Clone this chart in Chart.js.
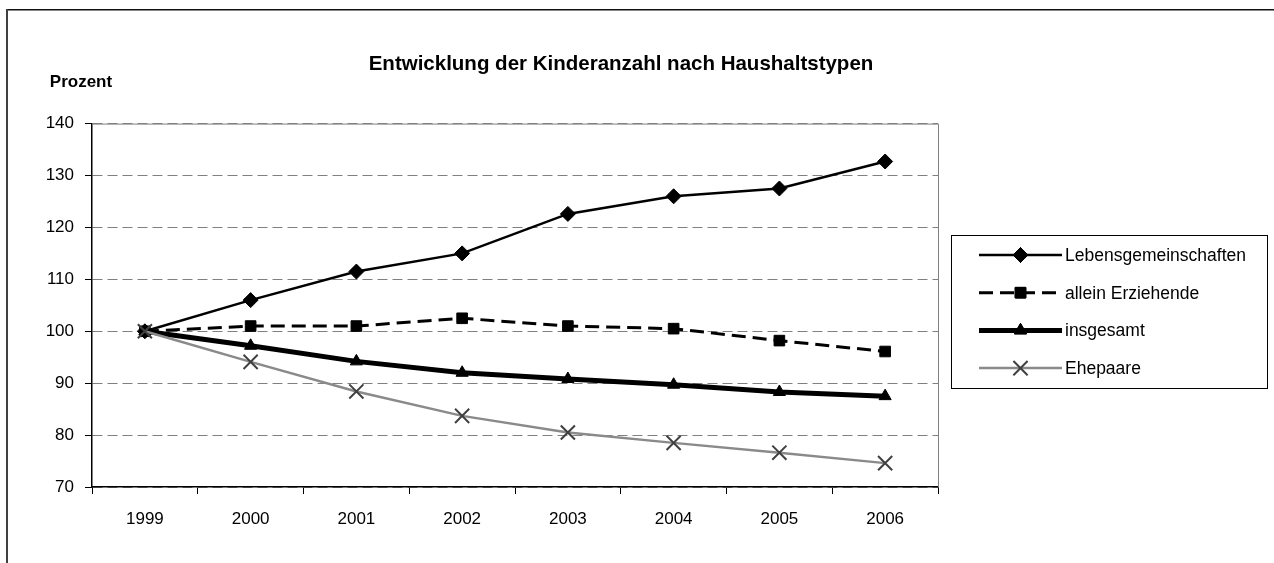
<!DOCTYPE html>
<html>
<head>
<meta charset="utf-8">
<script src="https://cdn.jsdelivr.net/npm/chart.js@4/dist/chart.umd.min.js"></script>
<style>
  html, body { margin: 0; padding: 0; background: #fff; }
  #wrap { position: relative; width: 1274px; height: 563px; }
</style>
</head>
<body>
<div id="wrap"><canvas id="chart"></canvas></div>
<script>
const years = ['1999', '2000', '2001', '2002', '2003', '2004', '2005', '2006'];
const lebensgemeinschaften = [100, 106.0, 111.5, 115.0, 122.6, 126.0, 127.5, 132.7];
const alleinErziehende = [100, 101.0, 101.0, 102.5, 101.0, 100.5, 98.2, 96.1];
const insgesamt = [100, 97.2, 94.2, 92.0, 90.8, 89.7, 88.3, 87.5];
const ehepaare = [100, 94.1, 88.4, 83.7, 80.5, 78.5, 76.6, 74.6];

const font = '"Liberation Sans", Arial, sans-serif';

// frame, "Prozent" and the legend box
const extras = {
  id: 'extras',
  beforeDraw(chart) {
    const ctx = chart.ctx;
    ctx.save();
    ctx.fillStyle = '#fff';
    ctx.fillRect(0, 0, chart.width, chart.height);
    ctx.strokeStyle = '#111';
    ctx.lineWidth = 1.5;
    ctx.beginPath();
    ctx.moveTo(6, 9.75);
    ctx.lineTo(chart.width, 9.75);
    ctx.stroke();
    ctx.strokeStyle = '#404040';
    ctx.lineWidth = 2;
    ctx.beginPath();
    ctx.moveTo(7, 9);
    ctx.lineTo(7, chart.height);
    ctx.stroke();
    ctx.restore();
  },
  beforeDatasetsDraw(chart) {
    const ctx = chart.ctx, a = chart.chartArea;
    ctx.save();
    ctx.strokeStyle = '#808080';
    ctx.lineWidth = 1;
    ctx.beginPath();
    ctx.moveTo(a.left, a.top + 0.5);
    ctx.lineTo(a.right + 0.5, a.top + 0.5);
    ctx.lineTo(a.right + 0.5, a.bottom);
    ctx.stroke();
    ctx.restore();
  },
  afterDraw(chart) {
    const ctx = chart.ctx;
    ctx.save();
    ctx.fillStyle = '#000';
    ctx.font = 'bold 17px ' + font;
    ctx.textAlign = 'center';
    ctx.textBaseline = 'middle';
    ctx.fillText('Prozent', 81, 82);

    // legend
    const box = {x: 951.5, y: 235.5, w: 316, h: 153};
    ctx.strokeStyle = '#000';
    ctx.lineWidth = 1;
    ctx.strokeRect(box.x, box.y, box.w, box.h);
    ctx.font = '17.5px ' + font;
    ctx.textAlign = 'left';
    chart.data.datasets.forEach((ds, i) => {
      const y = 255 + i * 37.7;
      ctx.save();
      ctx.strokeStyle = ds.borderColor;
      ctx.lineWidth = ds.borderWidth;
      ctx.setLineDash(ds.borderDash || []);
      ctx.beginPath();
      ctx.moveTo(979, y);
      ctx.lineTo(1062, y);
      ctx.stroke();
      ctx.restore();
      Chart.helpers.drawPoint(ctx, {
        pointStyle: ds.pointStyle,
        radius: ds.pointRadius,
        borderWidth: ds.pointBorderWidth,
        rotation: 0
      }, 1020.5, y);
      ctx.fillStyle = ds.pointBackgroundColor;
      ctx.strokeStyle = ds.pointBorderColor;
      ctx.lineWidth = ds.pointBorderWidth;
      ctx.fill();
      ctx.stroke();
      ctx.fillStyle = '#000';
      ctx.fillText(ds.label, 1065, y + 1);
    });
    ctx.restore();
  }
};

new Chart(document.getElementById('chart'), {
  type: 'line',
  data: {
    labels: years,
    datasets: [
      {label: 'Lebensgemeinschaften', data: lebensgemeinschaften, borderColor: '#000', borderWidth: 2.5,
       pointStyle: 'rectRot', pointRadius: 7.5, pointBackgroundColor: '#000', pointBorderColor: '#000', pointBorderWidth: 1, order: 3},
      {label: 'allein Erziehende', data: alleinErziehende, borderColor: '#000', borderWidth: 3, borderDash: [14, 7],
       pointStyle: 'rect', pointRadius: 7.5, pointBackgroundColor: '#000', pointBorderColor: '#000', pointBorderWidth: 1, order: 2},
      {label: 'insgesamt', data: insgesamt, borderColor: '#000', borderWidth: 5,
       pointStyle: 'triangle', pointRadius: 7, pointBackgroundColor: '#000', pointBorderColor: '#000', pointBorderWidth: 1, order: 1},
      {label: 'Ehepaare', data: ehepaare, borderColor: '#8a8a8a', borderWidth: 2.5,
       pointStyle: 'crossRot', pointRadius: 10, pointBackgroundColor: '#404040', pointBorderColor: '#404040', pointBorderWidth: 2, order: 0}
    ]
  },
  options: {
    responsive: true,
    maintainAspectRatio: false,
    animation: false,
    devicePixelRatio: 1,
    layout: {padding: {left: 0, right: 32, top: 0, bottom: 0}},
    elements: {line: {tension: 0}},
    plugins: {
      legend: {display: false},
      tooltip: {enabled: false},
      title: {
        display: true,
        text: 'Entwicklung der Kinderanzahl nach Haushaltstypen',
        color: '#000',
        font: {family: font, size: 20.5, weight: 'bold'},
        padding: {top: 52, bottom: 47}
      }
    },
    scales: {
      x: {
        offset: true,
        grid: {offset: true, drawOnChartArea: false, tickLength: 7, color: '#000', tickWidth: 1},
        border: {color: '#000', width: 1.5},
        ticks: {color: '#000', font: {family: font, size: 17}, padding: 15, maxRotation: 0},
        afterFit(scale) { scale.height = 76; }
      },
      y: {
        min: 70,
        max: 140,
        grid: {color: '#808080', lineWidth: 1, tickLength: 7, tickColor: '#000'},
        border: {color: '#000', width: 1.5, dash: [10, 5]},
        ticks: {stepSize: 10, color: '#000', font: {family: font, size: 17}, padding: 11},
        afterFit(scale) { scale.width = 92; }
      },
      // empty space on the right where the legend box sits
      legendSpace: {
        type: 'linear',
        position: 'right',
        grid: {display: false},
        border: {display: false},
        ticks: {display: false},
        afterFit(scale) { scale.width = 1274 - 32 - 938; }
      }
    }
  },
  plugins: [extras]
});
</script>
</body>
</html>
